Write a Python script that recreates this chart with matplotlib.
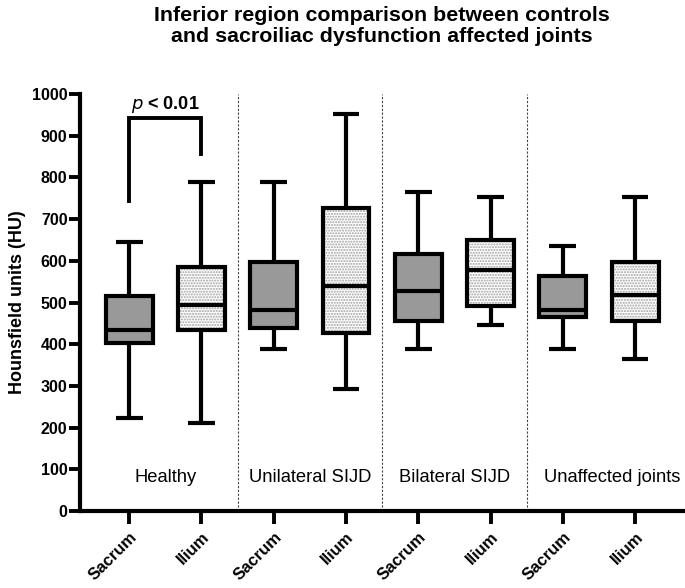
import matplotlib
matplotlib.use("Agg")
import matplotlib.pyplot as plt
from matplotlib.patches import PathPatch

plt.rcParams['font.family'] = ['Liberation Sans', 'DejaVu Sans']

groups = ["Healthy", "Unilateral SIJD", "Bilateral SIJD", "Unaffected joints"]
group_label_x = [0.5, 2.5, 4.5, 6.68]
sites = ["Sacrum", "Ilium"]
tick_labels = ["Sacrum", "Ilium"] * 4
whislo = [222, 212, 388, 293, 388, 447, 388, 365]
q1 = [403, 435, 438, 428, 455, 492, 465, 455]
med = [435, 495, 482, 540, 528, 577, 482, 517]
q3 = [515, 585, 597, 727, 617, 650, 563, 597]
whishi = [645, 788, 788, 952, 765, 752, 635, 752]
p_text = "p < 0.01"
bracket = [743, 942, 856]  # left leg bottom, top, right leg bottom

fig = plt.figure(figsize=(6.85, 5.88), dpi=100)
ax = fig.add_axes([80/685, 1-511/588, 1-80/685, (511-94)/588])

stats = [dict(whislo=a, q1=b, med=c, q3=d, whishi=e, fliers=[])
         for a, b, c, d, e in zip(whislo, q1, med, q3, whishi)]
pos = list(range(len(stats)))
lw = 3.0
bp = ax.bxp(stats, positions=pos, widths=0.65, patch_artist=True, showfliers=False,
            capwidths=0.37,
            boxprops=dict(linewidth=lw, edgecolor='black'),
            whiskerprops=dict(linewidth=lw, color='black'),
            capprops=dict(linewidth=lw, color='black'),
            medianprops=dict(linewidth=lw, color='black'))
for i, box in enumerate(bp['boxes']):
    box.set_zorder(3)
    if i % 2 == 0:
        box.set_facecolor('#999999')
    else:
        box.set_facecolor('none')
        bg = PathPatch(box.get_path(), facecolor='white', edgecolor='#a0a0a0',
                       hatch='......', linewidth=0, zorder=2.5)
        ax.add_patch(bg)
for k in ('medians', 'whiskers', 'caps'):
    for l in bp[k]:
        l.set_zorder(4)
        l.set_solid_capstyle('butt')

ax.set_xlim(-0.68, 7.69)
ax.set_ylim(0, 1000)
ax.set_yticks(range(0, 1001, 100))
ax.set_xticks(pos)
ax.set_xticklabels(tick_labels, rotation=45, ha='right', rotation_mode='anchor',
                   fontsize=12, fontweight='bold')
for t in ax.get_yticklabels():
    t.set_fontsize(11.5)
    t.set_fontweight('bold')
ax.tick_params(axis='both', width=2.8, length=8, direction='out')
ax.tick_params(axis='x', length=9, pad=4)
ax.tick_params(axis='y', pad=1)
for s in ('top', 'right'):
    ax.spines[s].set_visible(False)
for s in ('left', 'bottom'):
    ax.spines[s].set_linewidth(3.0)
ax.set_ylabel("Hounsfield units (HU)", fontsize=13, fontweight='bold', labelpad=4)

for i, g in enumerate(groups):
    ax.text(group_label_x[i], 80, g, ha='center', va='center', fontsize=13.2)
    if i > 0:
        ax.plot([2*i - 0.5]*2, [0, 1000], linestyle=(0, (2, 1.5)), color='#444444',
                linewidth=0.8, zorder=1)

ax.plot([0, 0, 1, 1], [bracket[0], bracket[1], bracket[1], bracket[2]],
        color='black', linewidth=2.8, solid_joinstyle='miter', zorder=4)
ax.text(0.5, 976, r"$\bf{\it{p}}$" + " < 0.01", ha='center', va='center',
        fontsize=13, fontweight='bold')

fig.text(382/685, 1-26/588, "Inferior region comparison between controls\nand sacroiliac dysfunction affected joints",
         ha='center', va='center', fontsize=15.4, fontweight='bold', linespacing=1.1)

fig.savefig("out.png", dpi=100)
